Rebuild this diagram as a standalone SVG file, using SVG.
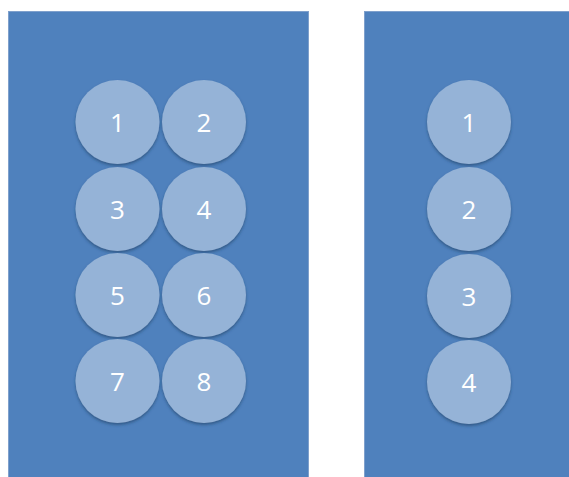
<svg xmlns="http://www.w3.org/2000/svg" width="569" height="477" viewBox="0 0 569 477">
  <style>
    .panel { fill: #4F81BD; stroke: #7FA0CC; stroke-width: 1; }
    .disc { fill: #95B3D7; filter: url(#sh); }
    .lbl { fill: #FFFFFF; font-family: "Open Sans", "Liberation Sans", sans-serif; font-size: 26px; text-anchor: middle; }
  </style>
  <defs>
    <filter id="sh" x="-20%" y="-20%" width="140%" height="150%">
      <feDropShadow dx="0" dy="2" stdDeviation="1.5" flood-color="#1F3F66" flood-opacity="0.6"/>
    </filter>
  </defs>
  <rect width="569" height="477" fill="#FFFFFF"/>
  <g id="panel-left"><rect class="panel" x="8.5" y="11.5" width="300" height="470"/></g>
  <g id="panel-right"><rect class="panel" x="364.5" y="11.5" width="210" height="470"/></g>
  <g id="connectors"></g>
  <g id="L1"><circle class="disc" cx="117.5" cy="122" r="42"/><text class="lbl" x="117.5" y="131.5">1</text></g>
  <g id="L2"><circle class="disc" cx="204" cy="122" r="42"/><text class="lbl" x="204" y="131.5">2</text></g>
  <g id="L3"><circle class="disc" cx="117.5" cy="209" r="42"/><text class="lbl" x="117.5" y="218.5">3</text></g>
  <g id="L4"><circle class="disc" cx="204" cy="209" r="42"/><text class="lbl" x="204" y="218.5">4</text></g>
  <g id="L5"><circle class="disc" cx="117.5" cy="295" r="42"/><text class="lbl" x="117.5" y="304.5">5</text></g>
  <g id="L6"><circle class="disc" cx="204" cy="295" r="42"/><text class="lbl" x="204" y="304.5">6</text></g>
  <g id="L7"><circle class="disc" cx="117.5" cy="381" r="42"/><text class="lbl" x="117.5" y="390.5">7</text></g>
  <g id="L8"><circle class="disc" cx="204" cy="381" r="42"/><text class="lbl" x="204" y="390.5">8</text></g>
  <g id="R1"><circle class="disc" cx="469" cy="122" r="42"/><text class="lbl" x="469" y="131.5">1</text></g>
  <g id="R2"><circle class="disc" cx="469" cy="209" r="42"/><text class="lbl" x="469" y="218.5">2</text></g>
  <g id="R3"><circle class="disc" cx="469" cy="296" r="42"/><text class="lbl" x="469" y="305.5">3</text></g>
  <g id="R4"><circle class="disc" cx="469" cy="382" r="42"/><text class="lbl" x="469" y="391.5">4</text></g>
</svg>
